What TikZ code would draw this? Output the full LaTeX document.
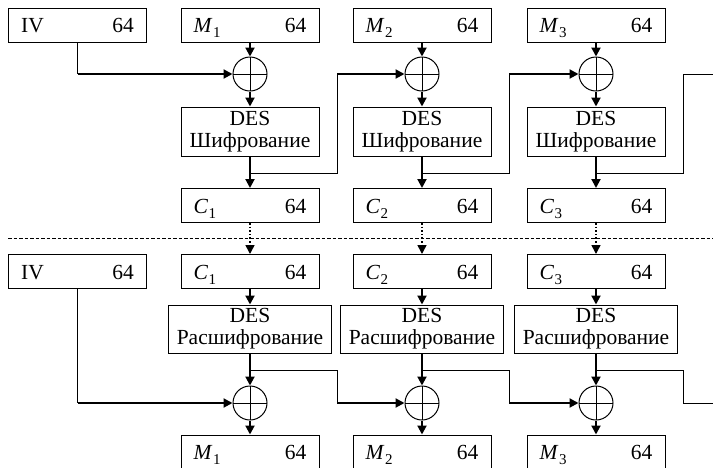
\documentclass[tikz,border=0pt]{standalone}
\usepackage{fontspec}
\newfontfamily\tnr{Liberation Serif}
\usetikzlibrary{arrows.meta,calc}
\newcommand\sublab[2]{\textit{#1}\kern0.02em\raisebox{-0.24em}{\fontsize{15}{15}\selectfont #2}}
\newcommand\lbox[4]{%
  \node[box] (#1) at (#2,#3) {};
  \node[txt,anchor=base west] (#1l) at ($(#1.west)+(13,7.5)$) {#4};
  \node[txt,anchor=base east] (#1n) at ($(#1.east)+(-13,7.5)$) {64};}
\begin{document}
\tnr
\begin{tikzpicture}[x=1pt,y=-1pt,font=\tnr\fontsize{21.5}{22}\selectfont,
  box/.style={draw,line width=1pt,inner sep=0pt,minimum height=34pt,minimum width=138pt},
  txt/.style={inner sep=0pt},
  encbox/.style={draw,line width=1pt,inner sep=0pt,minimum height=49pt,minimum width=138pt,align=center},
  decbox/.style={draw,line width=1pt,inner sep=0pt,minimum height=48pt,minimum width=163pt,align=center},
  xorn/.style={draw,circle,line width=1pt,minimum size=34pt,inner sep=0pt,
    path picture={\draw[line width=0.9pt] (path picture bounding box.north) -- (path picture bounding box.south)
      (path picture bounding box.west) -- (path picture bounding box.east);}},
  thk/.style={line width=2pt},
  thn/.style={line width=1pt},
  arr/.style={-{Triangle[length=9pt,width=9pt]}},
  dotarr/.style={line width=1.6pt,dash pattern=on 1.6pt off 2pt,-{Triangle[length=9pt,width=9pt]}},
]
\useasboundingbox (0,0) rectangle (713,467);
% ---------- encryption ----------
\lbox{iva}{77.5}{25}{IV}
\lbox{ma}{250}{25}{\sublab{M}{1}}
\lbox{mb}{422}{25}{\sublab{M}{2}}
\lbox{mc}{596}{25}{\sublab{M}{3}}
\node[xorn] (xa) at (250,74) {};
\node[xorn] (xb) at (422,74) {};
\node[xorn] (xc) at (596,74) {};
\node[encbox] (ea) at (250,131.5) {DES\\Шифрование};
\node[encbox] (eb) at (422,131.5) {DES\\Шифрование};
\node[encbox] (ec) at (596,131.5) {DES\\Шифрование};
\lbox{ca}{250}{205.5}{\sublab{C}{1}}
\lbox{cb}{422}{205.5}{\sublab{C}{2}}
\lbox{cc}{596}{205.5}{\sublab{C}{3}}
\foreach \n in {a,b,c}{
  \draw[thk,arr] (m\n) -- (x\n);
  \draw[thk,arr] (x\n) -- (e\n);
  \draw[thk,arr] (e\n) -- (c\n);
}
\coordinate (ivc) at (iva.south |- xa);
\draw[thn] (iva.south) -- (ivc);
\draw[thk,arr] (ivc) -- (xa);
\coordinate (ba) at (250,173); \coordinate (ka) at (337,173); \coordinate (ta) at (337,74);
\coordinate (bb) at (422,173); \coordinate (kb) at (509,173); \coordinate (tb) at (509,74);
\coordinate (bc) at (596,173); \coordinate (kc) at (683,173); \coordinate (tc) at (683,74);
\coordinate (ec2) at (713,74);
\draw[thn] (ba) -- (ka) -- (ta);
\draw[thk,arr] (ta) -- (xb);
\draw[thn] (bb) -- (kb) -- (tb);
\draw[thk,arr] (tb) -- (xc);
\draw[thn] (bc) -- (kc) -- (tc) -- (ec2);
% ---------- separator ----------
\coordinate (sl) at (8,238); \coordinate (sr) at (713,238);
\draw[line width=1pt,dash pattern=on 3.5pt off 2pt] (sl) -- (sr);
% ---------- decryption ----------
\lbox{ivb}{77.5}{271.5}{IV}
\lbox{da}{250}{271.5}{\sublab{C}{1}}
\lbox{db}{422}{271.5}{\sublab{C}{2}}
\lbox{dc}{596}{271.5}{\sublab{C}{3}}
\node[decbox] (ra) at (250,329) {DES\\Расшифрование};
\node[decbox] (rb) at (422,329) {DES\\Расшифрование};
\node[decbox] (rc) at (596,329) {DES\\Расшифрование};
\node[xorn] (ya) at (250,403) {};
\node[xorn] (yb) at (422,403) {};
\node[xorn] (yc) at (596,403) {};
\lbox{pa}{250}{452}{\sublab{M}{1}}
\lbox{pb}{422}{452}{\sublab{M}{2}}
\lbox{pc}{596}{452}{\sublab{M}{3}}
\foreach \n in {a,b,c}{
  \draw[dotarr] (c\n) -- (d\n);
  \draw[thk,arr] (d\n) -- (r\n);
  \draw[thk,arr] (r\n) -- (y\n);
  \draw[thk,arr] (y\n) -- (p\n);
}
\coordinate (ivd) at (ivb.south |- ya);
\draw[thn] (ivb.south) -- (ivd);
\draw[thk,arr] (ivd) -- (ya);
\coordinate (ga) at (250,370); \coordinate (ha) at (337,370); \coordinate (ja) at (337,403);
\coordinate (gb) at (422,370); \coordinate (hb) at (509,370); \coordinate (jb) at (509,403);
\coordinate (gc) at (596,370); \coordinate (hc) at (683,370); \coordinate (jc) at (683,403);
\coordinate (ed2) at (713,403);
\draw[thn] (ga) -- (ha) -- (ja);
\draw[thk,arr] (ja) -- (yb);
\draw[thn] (gb) -- (hb) -- (jb);
\draw[thk,arr] (jb) -- (yc);
\draw[thn] (gc) -- (hc) -- (jc) -- (ed2);
\end{tikzpicture}
\end{document}
